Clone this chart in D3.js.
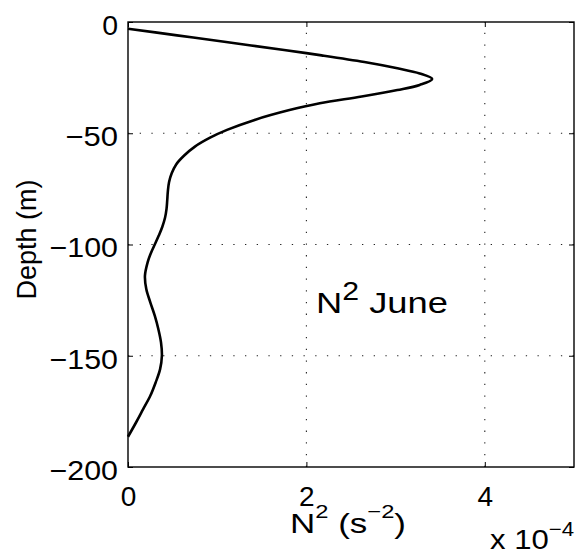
<!DOCTYPE html>
<html>
<head>
<meta charset="utf-8">
<script src="https://cdn.jsdelivr.net/npm/d3@7"></script>
<style>
  html, body { margin: 0; padding: 0; background: #fff; }
  svg { display: block; }
  text { font-family: "Liberation Sans", Arial, Helvetica, sans-serif; fill: #000; }
</style>
</head>
<body>
<svg id="chart" width="581" height="557"></svg>
<script>
// ---- data (N^2 in units of 1e-4 s^-2, depth in m) ----
const depth = [-3, -6, -9, -12.6, -15, -18, -20.8, -23.1, -25.6, -28.3, -30.6, -33.5, -36.5, -39.6, -44, -48.5, -52, -56, -60, -64, -68, -72, -76, -80, -84, -88, -92, -96, -100, -104, -108, -114, -120, -126, -132, -138, -144, -150, -156, -162, -168, -174, -180, -186.4];
const n2 = [0, 0.55, 1.10, 1.75, 2.17, 2.65, 3.02, 3.27, 3.41, 3.27, 3.02, 2.62, 2.15, 1.81, 1.42, 1.11, 0.92, 0.75, 0.63, 0.54, 0.49, 0.46, 0.447, 0.44, 0.432, 0.415, 0.385, 0.345, 0.30, 0.255, 0.22, 0.19, 0.205, 0.25, 0.30, 0.34, 0.37, 0.38, 0.36, 0.31, 0.25, 0.17, 0.09, 0];
const xTicks = [0, 2, 4];
const yTicks = [0, -50, -100, -150, -200];
const xDomain = [0, 5];
const yDomain = [-200, 0];

// ---- layout ----
const L = 128, R = 574, T = 22, B = 467;
const svg = d3.select("#chart");
const x = d3.scaleLinear().domain(xDomain).range([L, R]);
const y = d3.scaleLinear().domain(yDomain).range([B, T]);
const fs = 28;

// grid (dotted)
const grid = svg.append("g").attr("stroke", "#222").attr("stroke-width", 1.1)
  .attr("stroke-dasharray", "1.3,10.4");
grid.selectAll("line.v").data(xTicks.filter(d => d > xDomain[0] && d < xDomain[1]))
  .join("line").attr("class", "v")
  .attr("x1", d => x(d)).attr("x2", d => x(d)).attr("y1", B).attr("y2", T);
grid.selectAll("line.h").data(yTicks.filter(d => d > yDomain[0] && d < yDomain[1]))
  .join("line").attr("class", "h")
  .attr("x1", L).attr("x2", R).attr("y1", d => y(d)).attr("y2", d => y(d));

// axes
const fmt = d => d3.format("d")(d).replace("-", "\u2212");
// label widths: wider minus as in the reference
const labelLen = s => (s.startsWith("\u2212") ? 21 : 0) + 15.8 * s.replace("\u2212", "").length;
const ax = svg.append("g").attr("transform", `translate(0,${B})`)
  .call(d3.axisBottom(x).tickValues(xTicks).tickSizeInner(-5).tickSizeOuter(0).tickPadding(19).tickFormat(fmt));
const ay = svg.append("g").attr("transform", `translate(${L},0)`)
  .call(d3.axisLeft(y).tickValues(yTicks).tickSizeInner(-5).tickSizeOuter(0).tickPadding(10).tickFormat(fmt));
const axT = svg.append("g").attr("transform", `translate(0,${T})`)
  .call(d3.axisTop(x).tickValues(xTicks).tickSizeInner(-5).tickSizeOuter(0).tickFormat(""));
const ayR = svg.append("g").attr("transform", `translate(${R},0)`)
  .call(d3.axisRight(y).tickValues(yTicks).tickSizeInner(-5).tickSizeOuter(0).tickFormat(""));
[ax, ay, axT, ayR].forEach(g => {
  g.select(".domain").remove();
  g.selectAll(".tick line").attr("stroke", "#000").attr("stroke-width", 1);
  g.selectAll(".tick text").attr("font-size", fs).attr("font-family", '"Liberation Sans", Arial, sans-serif').attr("fill", "#000");
});
ay.selectAll(".tick text").attr("dy", "0.44em")
  .attr("textLength", function() { return labelLen(this.textContent); })
  .attr("lengthAdjust", "spacingAndGlyphs");

// frame
svg.append("rect").attr("x", L).attr("y", T).attr("width", R - L).attr("height", B - T)
  .attr("fill", "none").attr("stroke", "#000").attr("stroke-width", 1.4);

// curve
const pts = depth.map((d, i) => [n2[i], d]);
svg.append("path").datum(pts)
  .attr("fill", "none").attr("stroke", "#000").attr("stroke-width", 2.6)
  .attr("stroke-linejoin", "round")
  .attr("d", d3.line().x(p => x(p[0])).y(p => y(p[1])).curve(d3.curveCatmullRom.alpha(0.5)));

// y label
svg.append("text")
  .attr("transform", `translate(36,239.5) rotate(-90)`)
  .attr("text-anchor", "middle").attr("font-size", 27).text("Depth (m)");

// x label N^2 (s^-2)
const xl = svg.append("text").attr("x", 290).attr("y", 533)
  .attr("font-size", fs).attr("textLength", 116).attr("lengthAdjust", "spacingAndGlyphs");
xl.append("tspan").text("N");
xl.append("tspan").attr("font-size", 19).attr("dy", -15).text("2");
xl.append("tspan").attr("dy", 15).text(" (s");
xl.append("tspan").attr("font-size", 19).attr("dy", -15).text("\u22122");
xl.append("tspan").attr("dy", 15).text(")");

// exponent label
const ex = svg.append("text").attr("x", 490).attr("y", 549).attr("font-size", fs)
  .attr("textLength", 84).attr("lengthAdjust", "spacingAndGlyphs");
ex.append("tspan").text("x 10");
ex.append("tspan").attr("font-size", 20).attr("dy", -13).text("\u22124");

// annotation
const an = svg.append("text").attr("x", 316).attr("y", 313).attr("font-size", 30)
  .attr("textLength", 132).attr("lengthAdjust", "spacingAndGlyphs");
an.append("tspan").text("N");
an.append("tspan").attr("font-size", 25).attr("dy", -13).text("2");
an.append("tspan").attr("dy", 13).text(" June");
</script>
</body>
</html>
